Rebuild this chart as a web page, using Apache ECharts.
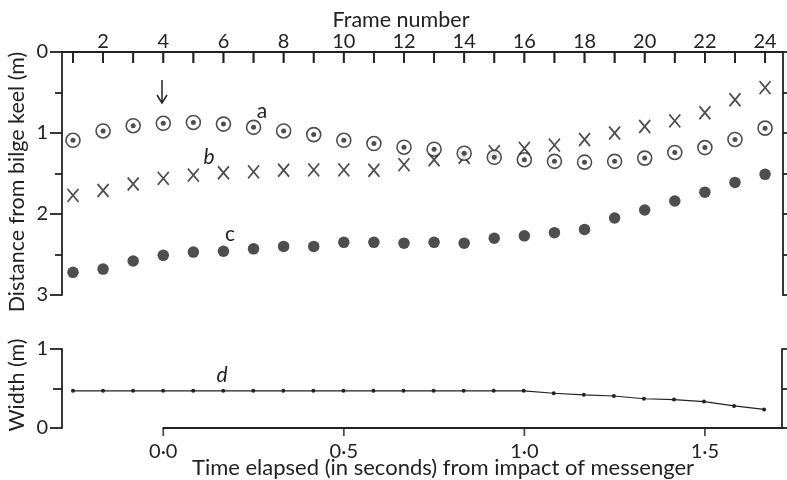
<!DOCTYPE html>
<html>
<head>
<meta charset="utf-8">
<script src="https://cdn.jsdelivr.net/npm/echarts@6/dist/echarts.min.js"></script>
<style>
html, body { margin: 0; background: #fff; }
#chart { width: 787px; height: 480px; }
</style>
</head>
<body>
<div id="chart"></div>
<script>
// frame numbers along the top axis
var frames = [1, 2, 3, 4, 5, 6, 7, 8, 9, 10, 11, 12, 13, 14, 15, 16, 17, 18, 19, 20, 21, 22, 23, 24];
// a: ringed points, b: crosses, c: filled dots (distance from bilge keel, m)
var ringDist  = [1.09, 0.975, 0.91, 0.88, 0.87, 0.89, 0.93, 0.975, 1.02, 1.09, 1.13, 1.175,
                 1.20, 1.25, 1.30, 1.33, 1.35, 1.36, 1.35, 1.31, 1.24, 1.18, 1.08, 0.94];
var crossDist = [1.77, 1.71, 1.63, 1.56, 1.52, 1.49, 1.48, 1.46, 1.455, 1.455, 1.46, 1.39,
                 1.33, 1.30, 1.23, 1.19, 1.15, 1.08, 1.00, 0.92, 0.85, 0.75, 0.59, 0.44];
var dotDist   = [2.72, 2.68, 2.58, 2.51, 2.47, 2.46, 2.43, 2.40, 2.40, 2.35, 2.35, 2.36,
                 2.35, 2.36, 2.30, 2.27, 2.23, 2.19, 2.05, 1.95, 1.84, 1.73, 1.61, 1.51];
// d: width of the net (m)
var netWidth  = [0.47, 0.47, 0.47, 0.47, 0.47, 0.47, 0.47, 0.47, 0.47, 0.47, 0.47, 0.47,
                 0.47, 0.47, 0.47, 0.47, 0.44, 0.42, 0.405, 0.37, 0.36, 0.335, 0.28, 0.235];
// time axis: 0 s is at frame 4, 12 frames per second
var timeTicks = [0, 0.5, 1, 1.5];
var timeZeroFrame = 4;
var framesPerSec = 12;

var ink = '#222';
var font = 'Lato';

// layout in px
var X_LEFT = 62, X_RIGHT = 783, F1_X = 73, PX_PER_FRAME = 30.09;
var W = 787;
var fMin = 1 - (F1_X - X_LEFT) / PX_PER_FRAME;
var fMax = 1 + (X_RIGHT - F1_X) / PX_PER_FRAME;
function frameX(f) { return F1_X + (f - 1) * PX_PER_FRAME; }
var t0X = frameX(timeZeroFrame);
var tEndX = frameX(timeZeroFrame + 1.5 * framesPerSec);
var tMax = (X_RIGHT - t0X) / (PX_PER_FRAME * framesPerSec);

function pairs(xs, ys) {
    return xs.map(function (x, i) { return [x, ys === undefined ? 0 : ys[i]]; });
}
function ls() { return { color: ink, width: 1.8 }; }
function off() { return { show: false }; }
function timeFmt(v) { return v.toFixed(1).replace('.', '\u00b7'); }

var myChart = echarts.init(document.getElementById('chart'));

option = {
    backgroundColor: '#fff',
    animation: false,
    textStyle: { fontFamily: font, color: ink },
    grid: [
        { left: X_LEFT, right: W - X_RIGHT, top: 52, height: 243 },          // top panel
        { left: F1_X, width: frameX(24) - F1_X, top: 52, height: 243 },     // frame labels + ticks
        { left: X_LEFT, right: W - X_RIGHT + 1, top: 349, height: 79 },      // width panel
        { left: t0X, right: W - X_RIGHT, top: 349, height: 79 },             // time axis line
        { left: t0X, width: tEndX - t0X, top: 349, height: 79 }              // time labels
    ],
    xAxis: [
        {
            gridIndex: 0, type: 'value', position: 'top', min: fMin, max: fMax,
            axisLine: { show: true, onZero: false, lineStyle: ls() },
            axisTick: off(), axisLabel: off(), splitLine: off()
        },
        {
            gridIndex: 1, type: 'value', position: 'top', min: 1, max: 24, interval: 1,
            axisLine: { show: false, onZero: false },
            axisTick: off(),
            axisLabel: {
                show: true, margin: 0, fontSize: 20, color: ink, fontFamily: font,
                formatter: function (v) { return v % 2 === 0 ? String(v) : ''; }
            },
            splitLine: off()
        },
        {
            gridIndex: 2, type: 'value', min: fMin, max: fMax, show: false
        },
        {
            gridIndex: 3, type: 'value', position: 'bottom', min: 0, max: tMax,
            axisLine: { show: true, onZero: false, lineStyle: ls() },
            axisTick: off(), axisLabel: off(), splitLine: off()
        },
        {
            gridIndex: 4, type: 'value', position: 'bottom', min: 0, max: 1.5, interval: 0.5,
            axisLine: { show: false, onZero: false },
            axisTick: off(),
            axisLabel: { show: true, margin: 14, fontSize: 20, color: ink, fontFamily: font, formatter: timeFmt },
            splitLine: off()
        }
    ],
    yAxis: [
        {
            gridIndex: 0, type: 'value', inverse: true, min: 0, max: 3, interval: 1,
            axisLine: { show: true, onZero: false, lineStyle: ls() },
            axisTick: { show: true, length: 12, lineStyle: ls() },
            minorTick: { show: true, splitNumber: 2, length: 7, lineStyle: ls() },
            axisLabel: { margin: 14, fontSize: 20, color: ink, fontFamily: font },
            splitLine: off()
        },
        {
            gridIndex: 0, type: 'value', position: 'right', inverse: true, min: 0, max: 3, interval: 0.5,
            axisLine: { show: true, onZero: false, lineStyle: ls() },
            axisTick: { show: true, length: 6, lineStyle: ls() },
            axisLabel: off(), splitLine: off()
        },
        { gridIndex: 1, type: 'value', inverse: true, min: 0, max: 1, show: false },
        {
            gridIndex: 2, type: 'value', min: 0, max: 1, interval: 1,
            axisLine: { show: true, onZero: false, lineStyle: ls() },
            axisTick: { show: true, length: 12, lineStyle: ls() },
            minorTick: { show: true, splitNumber: 2, length: 9, lineStyle: ls() },
            axisLabel: { margin: 14, fontSize: 20, color: ink, fontFamily: font },
            splitLine: off()
        },
        {
            gridIndex: 2, type: 'value', position: 'right', min: 0, max: 1, interval: 0.5,
            axisLine: { show: true, onZero: false, lineStyle: ls() },
            axisTick: { show: true, length: 6, lineStyle: ls() },
            axisLabel: off(), splitLine: off()
        },
        { gridIndex: 3, type: 'value', min: 0, max: 1, show: false },
        { gridIndex: 4, type: 'value', min: 0, max: 1, show: false }
    ],
    series: [
        {
            // frame ticks hanging from the top axis
            name: 'frame ticks', type: 'scatter', xAxisIndex: 1, yAxisIndex: 2,
            zlevel: 1, z: 10, clip: false, silent: true,
            symbol: 'rect', symbolSize: [1.8, 11], symbolOffset: [0, 5.5],
            itemStyle: { color: ink },
            data: pairs(frames)
        },
        {
            // time ticks below the time axis
            name: 'time ticks', type: 'scatter', xAxisIndex: 3, yAxisIndex: 5, z: 1, clip: false,
            silent: true, symbol: 'rect', symbolSize: [1.8, 8], symbolOffset: [0, 4],
            itemStyle: { color: ink },
            data: pairs(timeTicks)
        },
        {
            name: 'b', type: 'scatter', xAxisIndex: 0, yAxisIndex: 0, z: 2,
            symbol: 'path://M0,0L10,12M10,0L0,12', symbolSize: [11, 13],
            itemStyle: { color: 'none', borderColor: ink, borderWidth: 1.8 },
            data: pairs(frames, crossDist)
        },
        {
            name: 'a', type: 'scatter', xAxisIndex: 0, yAxisIndex: 0, z: 3,
            symbol: 'circle', symbolSize: 14,
            itemStyle: { color: '#fff', borderColor: ink, borderWidth: 1.6 },
            data: pairs(frames, ringDist)
        },
        {
            name: 'a centre', type: 'scatter', xAxisIndex: 0, yAxisIndex: 0, z: 4,
            symbol: 'circle', symbolSize: 5,
            itemStyle: { color: ink },
            data: pairs(frames, ringDist)
        },
        {
            name: 'c', type: 'scatter', xAxisIndex: 0, yAxisIndex: 0, z: 2,
            symbol: 'circle', symbolSize: 11.5,
            itemStyle: { color: ink },
            data: pairs(frames, dotDist)
        },
        {
            name: 'd', type: 'line', xAxisIndex: 2, yAxisIndex: 3,
            symbol: 'circle', symbolSize: 4, showSymbol: true,
            lineStyle: { color: ink, width: 1.2 },
            itemStyle: { color: ink },
            data: pairs(frames, netWidth)
        }
    ],
    graphic: [
        { type: 'text', x: 401, y: 20, style: { text: 'Frame number', font: '21.5px Lato', fill: ink, align: 'center', verticalAlign: 'middle' } },
        { type: 'text', x: 17, y: 182, rotation: Math.PI / 2, style: { text: 'Distance from bilge keel (m)', font: '21.5px Lato', fill: ink, align: 'center', verticalAlign: 'middle' } },
        { type: 'text', x: 17, y: 385, rotation: Math.PI / 2, style: { text: 'Width (m)', font: '21.5px Lato', fill: ink, align: 'center', verticalAlign: 'middle' } },
        { type: 'text', x: 443, y: 468, style: { text: 'Time elapsed (in seconds) from impact of messenger', font: '22px Lato', fill: ink, align: 'center', verticalAlign: 'middle' } },
        { type: 'text', x: 262, y: 111, style: { text: 'a', font: '21px Lato', fill: ink, align: 'center', verticalAlign: 'middle' } },
        { type: 'text', x: 209, y: 157, style: { text: 'b', font: 'italic 21px Lato', fill: ink, align: 'center', verticalAlign: 'middle' } },
        { type: 'text', x: 230, y: 234, style: { text: 'c', font: '21px Lato', fill: ink, align: 'center', verticalAlign: 'middle' } },
        { type: 'text', x: 222, y: 375, style: { text: 'd', font: 'italic 21px Lato', fill: ink, align: 'center', verticalAlign: 'middle' } },
        { type: 'line', shape: { x1: 162, y1: 80, x2: 162, y2: 103 }, style: { stroke: ink, lineWidth: 1.5 } },
        { type: 'polyline', shape: { points: [[157, 95], [162, 103], [167, 95]] }, style: { stroke: ink, lineWidth: 1.5, fill: 'none' } }
    ]
};

myChart.setOption(option);

// frame ticks again as plain lines, placed through the top panel's scales
var frameTickEls = frames.map(function (f) {
    var p = myChart.convertToPixel({ gridIndex: 0 }, [f, 0]);
    return {
        type: 'line', z: 100,
        shape: { x1: p[0], y1: p[1], x2: p[0], y2: p[1] + 11 },
        style: { stroke: ink, lineWidth: 1.8 }
    };
});
myChart.setOption({ graphic: option.graphic.concat(frameTickEls) });
</script>
</body>
</html>
